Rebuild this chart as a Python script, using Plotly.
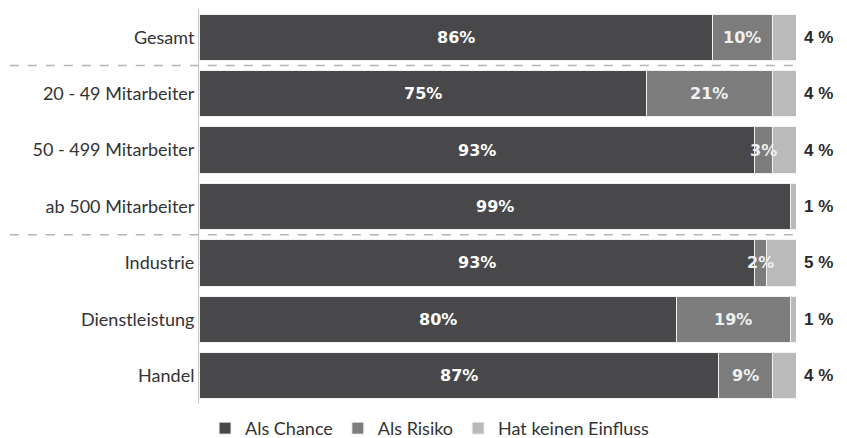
import plotly.graph_objects as go

categories = ["Gesamt", "20 - 49 Mitarbeiter", "50 - 499 Mitarbeiter", "ab 500 Mitarbeiter",
              "Industrie", "Dienstleistung", "Handel"]
chance = [86, 75, 93, 99, 93, 80, 87]
risiko = [10, 21, 3, 0, 2, 19, 9]
kein = [4, 4, 4, 1, 5, 1, 4]
series_names = ["Als Chance", "Als Risiko", "Hat keinen Einfluss"]
colors = ["#48484a", "#7c7c7d", "#bababb"]
separators_after = [0, 3]

fig = go.Figure()
for vals, name, col in zip([chance, risiko, kein], series_names, colors):
    fig.add_trace(go.Bar(
        y=categories, x=vals, name=name, orientation="h",
        marker=dict(color=col, line=dict(color="#f2f2f2", width=1)),
        hoverinfo="skip",
    ))

annotations = []
for i, cat in enumerate(categories):
    annotations.append(dict(x=chance[i] / 2, y=cat, text="<b>%d%%</b>" % chance[i],
                            showarrow=False, font=dict(family="DejaVu Sans", size=16, color="white")))
    if risiko[i] > 0:
        annotations.append(dict(x=chance[i] + risiko[i] / 2, y=cat, text="<b>%d%%</b>" % risiko[i],
                                showarrow=False, font=dict(family="DejaVu Sans", size=16, color="#f0f0f0")))
    total = chance[i] + risiko[i] + kein[i]
    annotations.append(dict(x=total, y=cat, text="<b>%d %%</b>" % kein[i], xanchor="left", xshift=6,
                            showarrow=False, font=dict(family="Liberation Sans", size=17, color="#2b2b2b")))

shapes = []
for s in separators_after:
    shapes.append(dict(type="line", xref="paper", yref="y", x0=-0.317, x1=1.007,
                       y0=s + 0.5, y1=s + 0.5, line=dict(color="#b5b5b5", width=1.5, dash="dash")))

fig.update_layout(
    barmode="stack",
    bargap=0.18,
    width=839, height=430,
    margin=dict(l=191, r=51, t=1, b=34, autoexpand=False),
    paper_bgcolor="white", plot_bgcolor="white",
    font=dict(family="Lato", size=18, color="#333333"),
    xaxis=dict(range=[0, 100], visible=False),
    yaxis=dict(autorange="reversed", showline=True, linecolor="#c8c8c8", linewidth=1,
               ticks="", tickfont=dict(family="Lato", size=18, color="#333333"),
               showgrid=False),
    legend=dict(orientation="h", x=0.387, xanchor="center", y=-0.015, yanchor="top",
                font=dict(family="Lato", size=18, color="#333333"), traceorder="normal"),
    annotations=annotations,
    shapes=shapes,
)

fig.write_html("out.html")
